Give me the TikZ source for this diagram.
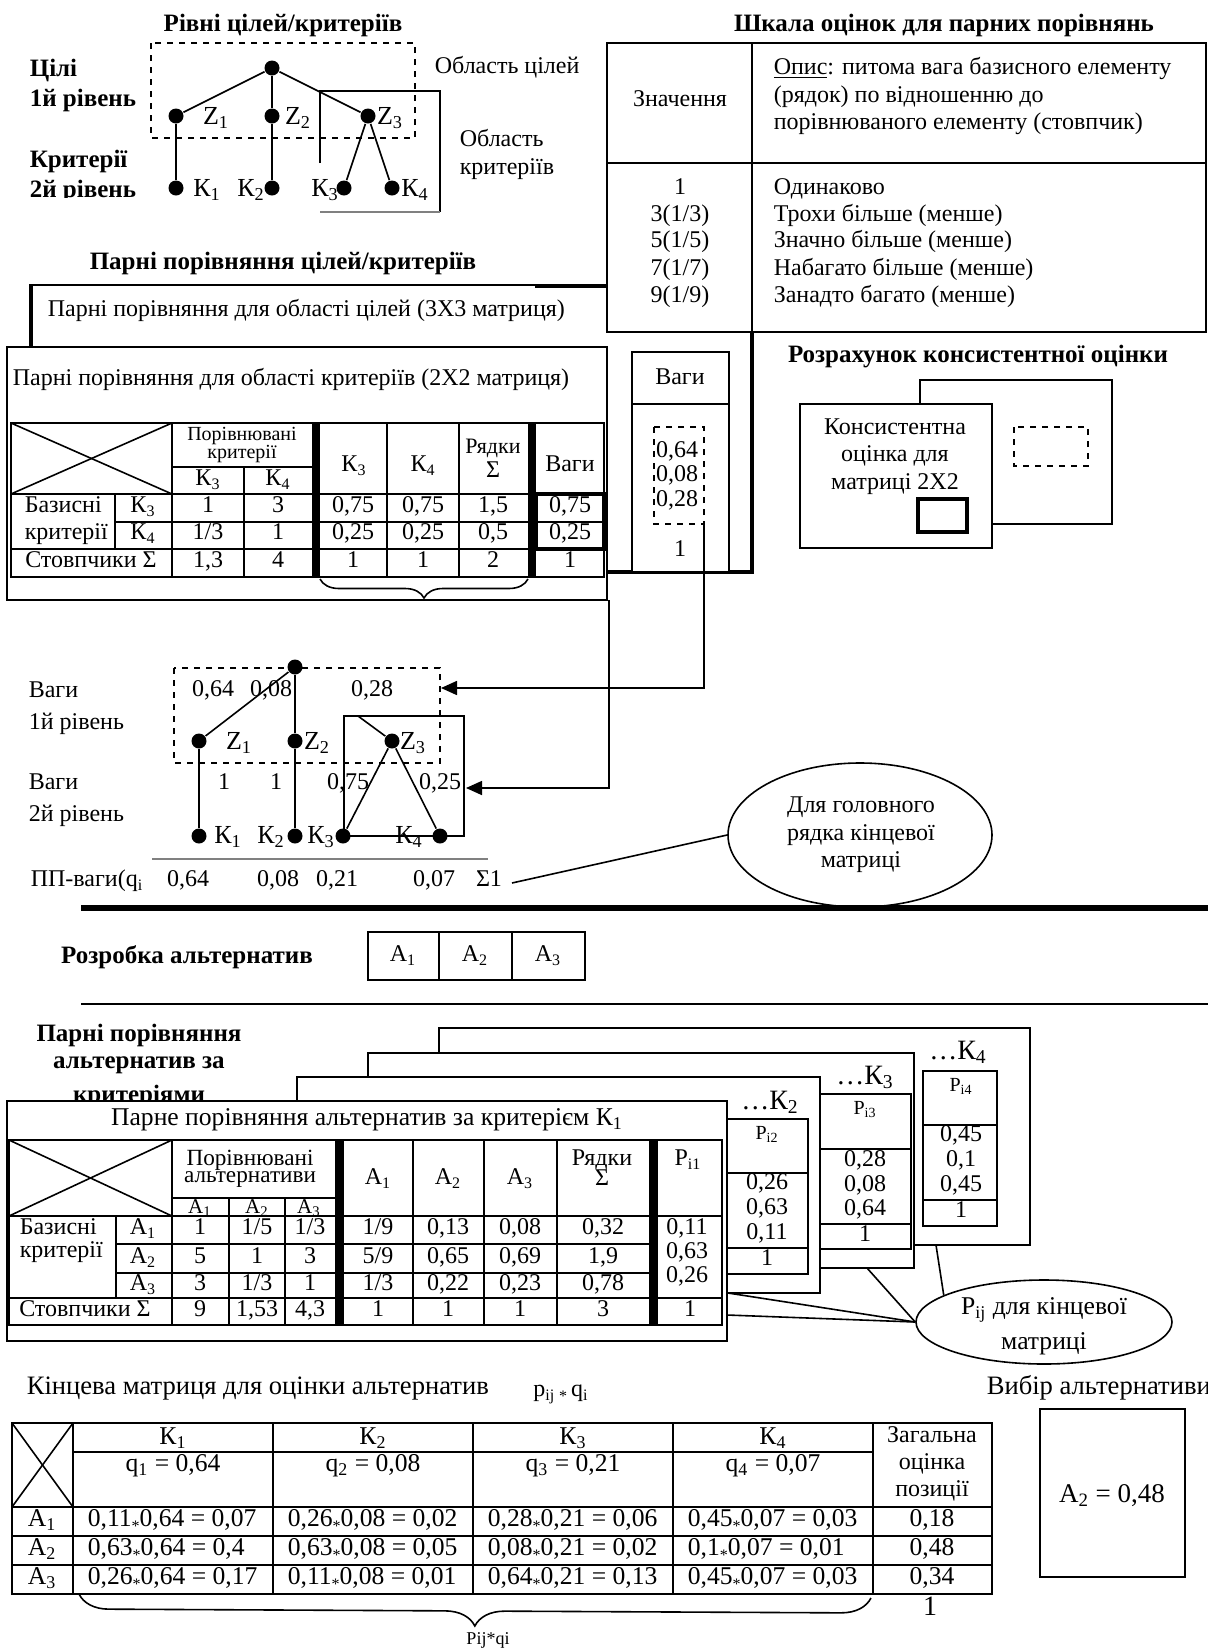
\documentclass[tikz,border=0pt]{standalone}
\usepackage{fontspec}
\setmainfont{Liberation Serif}
\usetikzlibrary{decorations.pathreplacing,arrows.meta,shapes.geometric}
\newcommand\sbs[1]{\textsubscript{#1}}
\newcommand\mulst{\raisebox{-0.45ex}{\footnotesize *}}
\begin{document}
\begin{tikzpicture}[x=0.5pt,y=-0.5pt,line width=0.8pt,
  every node/.style={inner sep=0pt,font=\fontsize{12}{13.8}\selectfont},
  tx/.style={anchor=mid},
  tl/.style={anchor=mid west},
  bft/.style={font=\fontsize{12.5}{14}\selectfont\bfseries},
  smt/.style={font=\fontsize{10}{12}\selectfont},
  mdt/.style={font=\fontsize{11}{12.5}\selectfont},
  lgt/.style={font=\fontsize{12.8}{14.5}\selectfont},
  tzt/.style={font=\fontsize{13}{15}\selectfont},
  bigt/.style={font=\fontsize{14}{16}\selectfont},
  dot/.style={circle,fill=black,minimum size=7.5pt},
  tk/.style={line width=2.4pt},
  brc/.style={decorate,decoration={brace,mirror,amplitude=#1}},
  arr/.style={-{Triangle[length=8pt,width=7pt]}}
]
\fill[white] (0,0) rectangle (1208,1650);
\useasboundingbox (0,0) rectangle (1208,1650);

% ===== top left: levels
\node[bft] (ttl1) at (283,25) {Рівні цілей/критеріїв};
\node[bft,tl] (lc1) at (29,72) {Цілі};
\node[bft,tl] (lc2) at (29,102) {1й рівень};
\node[bft,tl] (lc3) at (29,163) {Критерії};
\begin{scope}
\clip (0,175) rectangle (160,197);
\node[bft,tl] (lc4) at (29,193) {2й рівень};
\end{scope}
\draw[dashed] (151,43) rectangle (415,138);
\draw (320,163) -- (320,91) -- (440,91) -- (440,212);
\draw[gray] (320,212) -- (440,212);
\node[dot] (r0) at (272,68) {};
\node[dot] (z1) at (176,116) {};
\node[dot] (z2) at (272,116) {};
\node[dot] (z3) at (368,116) {};
\node[dot] (k1) at (176,188) {};
\node[dot] (k2) at (272,188) {};
\node[dot] (k3) at (344,188) {};
\node[dot] (k4) at (392,188) {};
\draw (r0) -- (z1); \draw (r0) -- (z2); \draw (r0) -- (z3);
\draw (z1) -- (k1); \draw (z2) -- (k2); \draw (z3) -- (k3); \draw (z3) -- (k4);
\node[tx,tzt] (lz1) at (216,120) {Z\sbs{1}};
\node[tx,tzt] (lz2) at (298,120) {Z\sbs{2}};
\node[tx,tzt] (lz3) at (390,120) {Z\sbs{3}};
\node[tx,tzt] (lk1) at (207,192) {К\sbs{1}};
\node[tx,tzt] (lk2) at (251,192) {К\sbs{2}};
\node[tx,tzt] (lk3) at (325,192) {К\sbs{3}};
\node[tx,tzt] (lk4) at (415,192) {К\sbs{4}};
\node[tl] (obc) at (434,69) {Область цілей};
\node[tl] (obk1) at (459,142) {Область};
\node[tl] (obk2) at (459,170) {критеріїв};
\node[bft] (ttl2) at (283,263) {Парні порівняння цілей/критеріїв};

% ===== 3x3 card (behind)
\draw (31,285) -- (535,285);
\draw[tk] (535,286) -- (607,286);
\draw[tk] (31,284) -- (31,347);
\node[tl] (c3t) at (47,312) {Парні порівняння для області цілей (3X3 матриця)};
\draw[tk] (752,330) -- (752,572) -- (607,572);

% ===== scale table
\node[bft] (ttl3) at (944,25) {Шкала оцінок для парних порівнянь};
\draw[fill=white] (607,43) rectangle (1206,332);
\draw (607,163) -- (1206,163);
\draw (752,43) -- (752,332);
\node[tx] (szn) at (680,102) {Значення};
\node[tl] (sd1) at (773,70) {\underline{Опис}: питома вага базисного елементу};
\node[tl] (sd2) at (773,98) {(рядок) по відношенню до};
\node[tl] (sd3) at (773,125) {порівнюваного елементу (стовпчик)};
\node[tx] (sv1) at (680,190) {1};
\node[tx] (sv2) at (680,217) {3(1/3)};
\node[tx] (sv3) at (680,243) {5(1/5)};
\node[tx] (sv4) at (680,271) {7(1/7)};
\node[tx] (sv5) at (680,298) {9(1/9)};
\node[tl] (st1) at (773,190) {Одинаково};
\node[tl] (st2) at (773,217) {Трохи більше (менше)};
\node[tl] (st3) at (773,243) {Значно більше (менше)};
\node[tl] (st4) at (773,271) {Набагато більше (менше)};
\node[tl] (st5) at (773,298) {Занадто багато (менше)};

% ===== 2x2 card
\draw[fill=white] (7,347) rectangle (607,600);
\node[tl] (c2t) at (12,381) {Парні порівняння для області критеріїв (2X2 матриця)};
\draw (11,423) rectangle (604,577);
\draw (11,494) -- (604,494);
\draw (11,549) -- (604,549);
\draw (115,522) -- (604,522);
\draw (172,467) -- (312,467);
\draw (115,494) -- (115,549);
\draw (172,423) -- (172,577);
\draw (244,467) -- (244,577);
\fill (312,423) rectangle (320,577);
\draw (387,423) -- (387,577);
\draw (459,423) -- (459,577);
\fill (528,423) rectangle (536,577);
\draw (11,423) -- (172,494);
\draw (11,494) -- (172,423);
\draw[tk] (536,494) rectangle (604,549);
\node[tx,smt] (h1) at (242,436) {Порівнювані};
\node[tx,smt] (h2) at (242,454) {критерії};
\node[tx] (h3) at (208,481) {К\sbs{3}};
\node[tx] (h4) at (278,481) {К\sbs{4}};
\node[tx] (h5) at (354,467) {К\sbs{3}};
\node[tx] (h6) at (423,467) {К\sbs{4}};
\node[tx,mdt] (h7) at (493,449) {Рядки};
\node[tx] (h8) at (493,473) {Σ};
\node[tx] (h9) at (570,467) {Ваги};
\node[tl] (bz1) at (24,508) {Базисні};
\node[tl] (bz2) at (24,535) {критерії};
\node[tx] (bk3) at (143,508) {К\sbs{3}};
\node[tx] (bk4) at (143,535) {К\sbs{4}};
\node[tx] (bst) at (91,563) {Стовпчики Σ};
\foreach \x/\t [count=\i] in {208/1,278/3,353/{0,75},423/{0,75},493/{1,5},570/{0,75}}
  \node[tx] (ra\i) at (\x,508) {\t};
\foreach \x/\t [count=\i] in {208/1\slash 3,278/1,353/{0,25},423/{0,25},493/{0,5},570/{0,25}}
  \node[tx] (rb\i) at (\x,535) {\t};
\foreach \x/\t [count=\i] in {208/{1,3},278/4,353/1,423/1,493/2,570/1}
  \node[tx] (rc\i) at (\x,563) {\t};
\draw[brc=9.5pt] (320,579) -- (528,579);

% ===== weights box
\draw[fill=white] (632,352) rectangle (729,572);
\draw (632,404) -- (729,404);
\node[tx] (vg) at (680,380) {Ваги};
\draw[dashed] (654,427) rectangle (704,524);
\node[tx] (vg1) at (677,453) {0,64};
\node[tx] (vg2) at (677,477) {0,08};
\node[tx] (vg3) at (677,502) {0,28};
\node[tx] (vg4) at (680,552) {1};

% ===== consistency
\node[bft] (ttl4) at (978,357) {Розрахунок консистентної оцінки};
\draw[fill=white] (920,380) rectangle (1112,524);
\draw[dashed] (1014,427) rectangle (1088,466);
\draw[fill=white] (800,404) rectangle (992,548);
\draw[tk] (918,499) rectangle (967,532);
\node[tx] (ks1) at (895,430) {Консистентна};
\node[tx] (ks2) at (895,457) {оцінка для};
\node[tx] (ks3) at (895,485) {матриці 2X2};

% ===== tree with weights
\node[tl] (wl1) at (28,693) {Ваги};
\node[tl] (wl2) at (28,725) {1й рівень};
\node[tl] (wl3) at (28,785) {Ваги};
\node[tl] (wl4) at (28,817) {2й рівень};
\draw[dashed] (174,668) rectangle (440,763);
\draw (344,716) rectangle (464,836);
\node[dot] (w0) at (295,667) {};
\node[dot] (y1) at (199,741) {};
\node[dot] (y2) at (295,741) {};
\node[dot] (y3) at (392,741) {};
\node[dot] (q1) at (199,836) {};
\node[dot] (q2) at (295,836) {};
\node[dot] (q3) at (343,836) {};
\node[dot] (q4) at (440,836) {};
\coordinate (zb) at (358,716);
\draw (w0) -- (y1); \draw (w0) -- (y2); \draw (zb) -- (y3);
\draw (y1) -- (q1); \draw (y2) -- (q2); \draw (y3) -- (q3); \draw (y3) -- (q4);
\node[tx] (wv1) at (213,692) {0,64};
\node[tx] (wv2) at (271,692) {0,08};
\node[tx] (wv3) at (372,692) {0,28};
\node[tx,tzt] (wz1) at (239,745) {Z\sbs{1}};
\node[tx,tzt] (wz2) at (317,745) {Z\sbs{2}};
\node[tx,tzt] (wz3) at (413,745) {Z\sbs{3}};
\node[tx] (wv4) at (224,785) {1};
\node[tx] (wv5) at (276,785) {1};
\node[tx] (wv6) at (348,785) {0,75};
\node[tx] (wv7) at (440,785) {0,25};
\node[tx,tzt] (wk1) at (228,839) {К\sbs{1}};
\node[tx,tzt] (wk2) at (271,839) {К\sbs{2}};
\node[tx,tzt] (wk3) at (321,839) {К\sbs{3}};
\node[tx,tzt] (wk4) at (409,839) {К\sbs{4}};
\draw[gray] (152,859) -- (488,859);
\begin{scope}
\clip (0,862) rectangle (153,905);
\node[tl] (pp) at (30,882) {ПП-ваги(q\sbs{i}};
\end{scope}
\node[tx] (pv1) at (188,882) {0,64};
\node[tx] (pv2) at (278,882) {0,08};
\node[tx] (pv3) at (337,882) {0,21};
\node[tx] (pv4) at (434,882) {0,07};
\node[tx] (pv5) at (489,882) {Σ1};
\coordinate (wd) at (704,524);
\coordinate (wa) at (441,688);
\draw[arr] (wd) |- (wa);
\coordinate (cc) at (609,600);
\coordinate (cb) at (466,788);
\draw[arr] (cc) |- (cb);
\node[draw,ellipse,fill=white,minimum width=132pt,minimum height=72pt] (el1) at (860,835) {};
\node[tx] (el1a) at (861,808) {Для головного};
\node[tx] (el1b) at (861,836) {рядка кінцевої};
\node[tx] (el1c) at (861,863) {матриці};
\coordinate (s1) at (512,883);
\draw (s1) -- (el1.west);

% ===== alternatives
\draw[line width=2.8pt] (81,908) -- (1208,908);
\node[bft] (ttl5) at (187,957) {Розробка альтернатив};
\draw (368,932) rectangle (585,980);
\draw (439,932) -- (439,980);
\draw (512,932) -- (512,980);
\node[tx] (al1) at (403,957) {A\sbs{1}};
\node[tx] (al2) at (475,957) {A\sbs{2}};
\node[tx] (al3) at (548,957) {A\sbs{3}};
\draw[line width=1.2pt] (81,1004) -- (1208,1004);
\node[bft] (ttl6a) at (139,1035) {Парні порівняння};
\node[bft] (ttl6b) at (139,1065) {альтернатив за};
\node[bft] (ttl6c) at (139,1096) {критеріями};

% stacked cards
\draw[fill=white] (439,1028) rectangle (1030,1245);
\node[tx,bigt] (kk4) at (958,1055) {\dots К\sbs{4}};
\draw[fill=white,line width=1.2pt] (923,1071) rectangle (997,1226);
\draw[line width=1.2pt] (923,1125) -- (997,1125);
\draw[line width=1.2pt] (923,1200) -- (997,1200);
\node[tx,smt] (p4h) at (961,1087) {P\sbs{i4}};
\node[tx] (p4a) at (961,1137) {0,45};
\node[tx] (p4b) at (961,1162) {0,1};
\node[tx] (p4c) at (961,1187) {0,45};
\node[tx] (p4d) at (961,1213) {1};

\draw[fill=white] (368,1053) rectangle (914,1268);
\node[tx,bigt] (kk3) at (865,1080) {\dots К\sbs{3}};
\draw[fill=white,line width=1.2pt] (820,1094) rectangle (911,1249);
\draw[line width=1.2pt] (820,1149) -- (911,1149);
\draw[line width=1.2pt] (820,1224) -- (911,1224);
\node[tx,smt] (p3h) at (865,1110) {P\sbs{i3}};
\node[tx] (p3a) at (865,1162) {0,28};
\node[tx] (p3b) at (865,1187) {0,08};
\node[tx] (p3c) at (865,1211) {0,64};
\node[tx] (p3d) at (865,1237) {1};

\draw[fill=white] (297,1077) rectangle (820,1293);
\node[tx,bigt] (kk2) at (770,1105) {\dots К\sbs{2}};
\draw[fill=white,line width=1.2pt] (720,1119) rectangle (808,1274);
\draw[line width=1.2pt] (720,1173) -- (808,1173);
\draw[line width=1.2pt] (720,1248) -- (808,1248);
\node[tx,smt] (p2h) at (767,1135) {P\sbs{i2}};
\node[tx] (p2a) at (767,1185) {0,26};
\node[tx] (p2b) at (767,1210) {0,63};
\node[tx] (p2c) at (767,1235) {0,11};
\node[tx] (p2d) at (767,1261) {1};

% front card
\draw[fill=white] (7,1101) rectangle (727,1341);
\node[tx,lgt] (f1t) at (367,1121) {Парне порівняння альтернатив за критерієм К\sbs{1}};
\draw (9,1140) rectangle (722,1325);
\draw (9,1216) -- (722,1216);
\draw (9,1298) -- (722,1298);
\draw (116,1244) -- (649,1244);
\draw (116,1273) -- (649,1273);
\draw (172,1198) -- (335,1198);
\draw (116,1216) -- (116,1298);
\draw (172,1140) -- (172,1325);
\draw (229,1198) -- (229,1325);
\draw (285,1198) -- (285,1325);
\fill (335,1140) rectangle (344,1325);
\draw (413,1140) -- (413,1325);
\draw (484,1140) -- (484,1325);
\draw (557,1140) -- (557,1325);
\fill (649,1140) rectangle (658,1325);
\draw (9,1140) -- (172,1216);
\draw (9,1216) -- (172,1140);
\node[tx,font=\fontsize{11.6}{13}\selectfont] (g1) at (250,1161) {Порівнювані};
\node[tx,font=\fontsize{11.6}{13}\selectfont] (g2) at (250,1178) {альтернативи};
\node[tx,font=\fontsize{10.5}{12}\selectfont] (g3) at (200,1209) {A\sbs{1}};
\node[tx,font=\fontsize{10.5}{12}\selectfont] (g4) at (257,1209) {A\sbs{2}};
\node[tx,font=\fontsize{10.5}{12}\selectfont] (g5) at (309,1209) {A\sbs{3}};
\node[tx] (g6) at (378,1180) {A\sbs{1}};
\node[tx] (g7) at (448,1180) {A\sbs{2}};
\node[tx] (g8) at (520,1180) {A\sbs{3}};
\node[tx] (g9) at (602,1161) {Рядки};
\node[tx] (g10) at (602,1181) {Σ};
\node[tx] (g11) at (688,1161) {P\sbs{i1}};
\node[tl] (g12) at (19,1230) {Базисні};
\node[tl] (g13) at (19,1253) {критерії};
\node[tx] (g14) at (143,1230) {A\sbs{1}};
\node[tx] (g15) at (143,1259) {A\sbs{2}};
\node[tx] (g16) at (143,1286) {A\sbs{3}};
\node[tx] (g17) at (85,1312) {Стовпчики Σ};
\foreach \x/\t [count=\i] in {200/1,257/1\slash 5,310/1\slash 3,378/1\slash 9,448/{0,13},520/{0,08},603/{0,32}}
  \node[tx] (fa\i) at (\x,1230) {\t};
\foreach \x/\t [count=\i] in {200/5,257/1,310/3,378/5\slash 9,448/{0,65},520/{0,69},603/{1,9}}
  \node[tx] (fb\i) at (\x,1259) {\t};
\foreach \x/\t [count=\i] in {200/3,257/1\slash 3,310/1,378/1\slash 3,448/{0,22},520/{0,23},603/{0,78}}
  \node[tx] (fc\i) at (\x,1286) {\t};
\foreach \x/\t [count=\i] in {200/9,257/{1,53},310/{4,3},378/1,448/1,520/1,603/3,690/1}
  \node[tx] (fd\i) at (\x,1312) {\t};
\node[tx] (fp1) at (687,1230) {0,11};
\node[tx] (fp2) at (687,1254) {0,63};
\node[tx] (fp3) at (687,1278) {0,26};

% ellipse P_ij
\node[draw,ellipse,fill=white,minimum width=128pt,minimum height=42pt] (el2) at (1044,1322) {};
\begin{scope}
\clip (1044,1322) ellipse [x radius=128,y radius=42];
\node[tx,lgt] (el2a) at (1044,1310) {P\sbs{ij} для кінцевої};
\node[tx,lgt] (el2b) at (1044,1345) {матриці};
\end{scope}
\coordinate (e1) at (728,1293);
\coordinate (e2) at (867,1268);
\coordinate (e3) at (727,1315);
\coordinate (e4) at (936,1245);
\draw (e1) -- (el2.west);
\draw (e2) -- (el2.west);
\draw (e3) -- (el2.west);
\draw (e4) -- (el2.165);

% ===== final matrix
\node[tl,font=\fontsize{13.3}{15}\selectfont] (fm) at (26,1390) {Кінцева матриця для оцінки альтернатив};
\node[tx] (fmf) at (561,1392) {p\sbs{ij}\,\mulst\,q\sbs{i}};
\node[tl,font=\fontsize{13.3}{15}\selectfont] (vib) at (986,1390) {Вибір альтернативи};
\draw (12,1423) rectangle (992,1594);
\draw (73,1452) -- (873,1452);
\draw (12,1507) -- (992,1507);
\draw (12,1536) -- (992,1536);
\draw (12,1565) -- (992,1565);
\foreach \x in {73,273,473,673,873} \draw (\x,1423) -- (\x,1594);
\draw (12,1423) -- (73,1507);
\draw (12,1507) -- (73,1423);
\foreach \x/\k/\q [count=\i] in {173/1/{0,64},373/2/{0,08},573/3/{0,21},773/4/{0,07}} {
  \node[tx,lgt] (kh\i) at (\x,1440) {К\sbs{\k}};
  \node[tx,lgt] (qh\i) at (\x,1467) {q\sbs{\k} = \q};
}
\node[tx] (zg1) at (932,1438) {Загальна};
\node[tx] (zg2) at (932,1465) {оцінка};
\node[tx] (zg3) at (932,1492) {позиції};
\node[tx,lgt] (ra) at (42,1522) {A\sbs{1}};
\node[tx,lgt] (rbb) at (42,1551) {A\sbs{2}};
\node[tx,lgt] (rcc) at (42,1580) {A\sbs{3}};
\foreach \x/\t [count=\i] in {87/{0,11\mulst 0,64 = 0,07},287/{0,26\mulst 0,08 = 0,02},487/{0,28\mulst 0,21 = 0,06},687/{0,45\mulst 0,07 = 0,03}}
  \node[tl,lgt] (ma\i) at (\x,1522) {\t};
\foreach \x/\t [count=\i] in {87/{0,63\mulst 0,64 = 0,4},287/{0,63\mulst 0,08 = 0,05},487/{0,08\mulst 0,21 = 0,02},687/{0,1\mulst 0,07 = 0,01}}
  \node[tl,lgt] (mb\i) at (\x,1551) {\t};
\foreach \x/\t [count=\i] in {87/{0,26\mulst 0,64 = 0,17},287/{0,11\mulst 0,08 = 0,01},487/{0,64\mulst 0,21 = 0,13},687/{0,45\mulst 0,07 = 0,03}}
  \node[tl,lgt] (mc\i) at (\x,1580) {\t};
\node[tx,lgt] (mz1) at (932,1522) {0,18};
\node[tx,lgt] (mz2) at (932,1551) {0,48};
\node[tx,lgt] (mz3) at (932,1580) {0,34};
\node[tx,bigt] (one) at (930,1611) {1};
\draw[brc=15pt] (79,1594) -- (871,1598);
\node[tx,font=\fontsize{9}{11}\selectfont] (pq) at (488,1640) {Pij*qi};
\draw (1040,1409) rectangle (1185,1577);
\node[tx,font=\fontsize{13.5}{15}\selectfont] (res) at (1112,1498) {A\sbs{2} = 0,48};
\end{tikzpicture}
\end{document}
